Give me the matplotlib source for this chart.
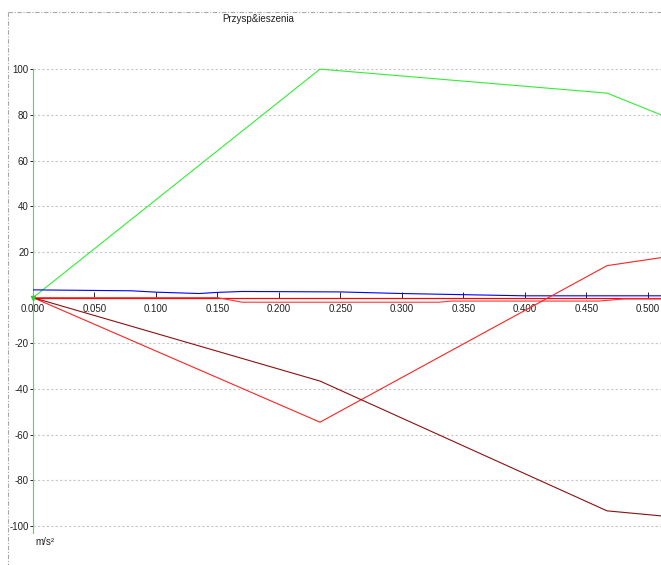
import matplotlib
matplotlib.use("Agg")
import matplotlib.pyplot as plt
from matplotlib.lines import Line2D

plt.rcParams['font.family'] = ['Liberation Sans', 'DejaVu Sans']

# ---- data ----
x_main = [0.0, 0.2333, 0.4667, 0.5106]
green_vals = [0.0, 100.0, 89.5, 80.0]
red_vals = [0.0, -54.5, 14.0, 17.5]
darkred_vals = [0.0, -36.5, -93.3, -95.5]

x_blue = [0.0, 0.08, 0.10, 0.135, 0.15, 0.17, 0.25, 0.30, 0.35, 0.40, 0.5106]
blue_vals = [3.4, 3.0, 2.4, 1.8, 2.3, 2.7, 2.5, 1.8, 1.3, 0.8, 0.8]

x_flat = [0.0, 0.5106]
flat_vals = [0.0, 0.0]

x_small = [0.0, 0.15, 0.17, 0.33, 0.34, 0.46, 0.48, 0.5106]
small_vals = [0.0, 0.0, -2.0, -2.0, -1.5, -1.5, -0.6, -0.6]

xticks = [0.0, 0.05, 0.1, 0.15, 0.2, 0.25, 0.3, 0.35, 0.4, 0.45, 0.5]
xtick_labels = ["0.000", "0.050", "0.100", "0.150", "0.200", "0.250",
                "0.300", "0.350", "0.400", "0.450", "0.500"]
yticks = [100, 80, 60, 40, 20, -20, -40, -60, -80, -100]
ytick_labels = ["100", "80", "60", "40", "20", "-20", "-40", "-60", "-80", "-100"]

title = "Przysp&ieszenia"
unit = "m/s²"

# ---- figure ----
W, H = 661, 565
fig = plt.figure(figsize=(W / 100, H / 100), dpi=100)
fig.patch.set_facecolor('white')

ax_left, ax_top, ax_bottom = 33, 12, 565
ax = fig.add_axes([ax_left / W, 1 - ax_bottom / H, (W - ax_left) / W, (ax_bottom - ax_top) / H])
ax.set_facecolor('white')
ax.set_xlim(0, 0.5106)
ax.set_ylim(-117, 125)

for s in ['top', 'right']:
    ax.spines[s].set_visible(False)
ax.spines['bottom'].set_position(('data', 0))
ax.spines['bottom'].set_color('#ff0000')
ax.spines['bottom'].set_linewidth(0.8)
ax.spines['left'].set_position(('data', 0))
ax.spines['left'].set_color('#33ee33')
ax.spines['left'].set_linewidth(0.8)
ax.spines['left'].set_bounds(-103, 100)

# grid lines
for yv in yticks:
    ax.axhline(yv, color='#c8c8c8', lw=0.8, ls=(0, (2, 2)), zorder=0)

ax.set_xticks(xticks)
ax.set_xticklabels(xtick_labels)
ax.set_yticks(yticks)
ax.set_yticklabels(ytick_labels)
ax.tick_params(axis='x', direction='in', length=4, width=0.7, color='#222222',
               labelsize=7, pad=4.5, labelcolor='#222222')
ax.tick_params(axis='y', direction='out', length=2.5, width=0.7, color='#222222',
               labelsize=7, pad=0.5, labelcolor='#222222')

lw = 0.8
ax.plot(x_main, green_vals, color='#33ee33', lw=lw, zorder=3)
ax.plot(x_blue, blue_vals, color='#0000ff', lw=lw, zorder=3)
ax.plot(x_flat, flat_vals, color='#ff0000', lw=lw, zorder=3)
ax.plot(x_small, small_vals, color='#ff3333', lw=lw, zorder=3)
ax.plot(x_main, red_vals, color='#ff2222', lw=lw, zorder=3)
ax.plot(x_main, darkred_vals, color='#8b1010', lw=lw, zorder=3)
ax.plot([0.0], [0.0], marker='v', color='#33cc33', ms=3, zorder=4, clip_on=False)

# title and unit
fig.text(258 / W, 1 - 19 / H, title, ha='center', va='center', fontsize=7, color='#222222')
fig.text(35 / W, 1 - 542 / H, unit, ha='left', va='center', fontsize=7, color='#222222')

# dash-dot frame (top and left)
fig.add_artist(Line2D([8 / W, 1.0], [1 - 12 / H, 1 - 12 / H], transform=fig.transFigure,
                      color='#a8a8a8', lw=0.8, ls=(0, (4, 1.5, 1, 1.5))))
fig.add_artist(Line2D([8 / W, 8 / W], [1 - 12 / H, 0.0], transform=fig.transFigure,
                      color='#a8a8a8', lw=0.8, ls=(0, (4, 1.5, 1, 1.5))))

fig.savefig('out.png', dpi=100)
